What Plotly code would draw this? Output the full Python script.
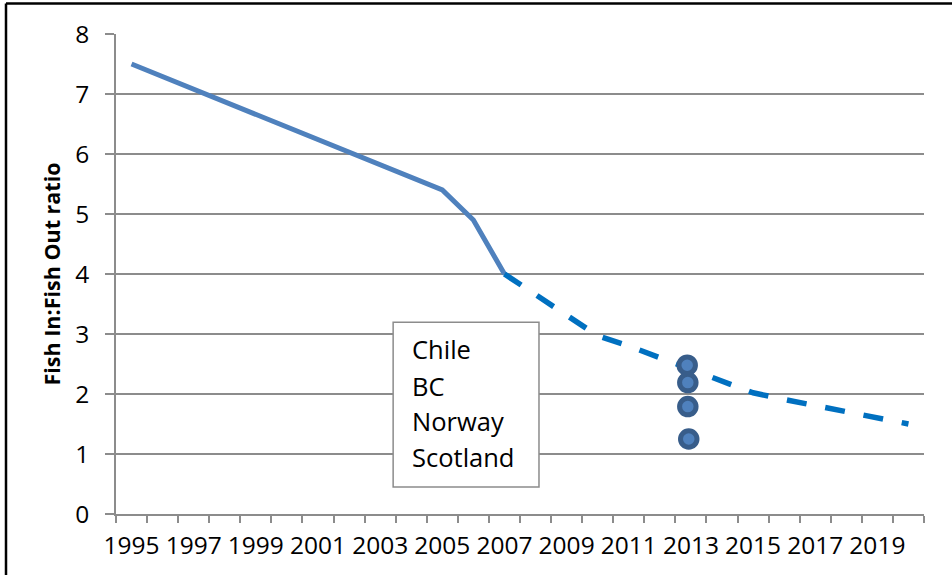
import plotly.graph_objects as go

# Data
solid_years = [1995, 2005, 2006, 2007]
solid_vals = [7.5, 5.4, 4.9, 4.0]

proj_years = [2007, 2008, 2009, 2010, 2011, 2012, 2013, 2014, 2015, 2016, 2017, 2018, 2019, 2020]
proj_vals = [4.0, 3.65, 3.3, 2.97, 2.8, 2.6, 2.4, 2.2, 2.02, 1.91, 1.81, 1.71, 1.6, 1.5]

countries = ["Chile", "BC", "Norway", "Scotland"]
country_x = [2012.88, 2012.9, 2012.9, 2012.93]
country_vals = [2.48, 2.19, 1.79, 1.25]

tick_years = list(range(1995, 2020, 2))
y_ticks = [0, 1, 2, 3, 4, 5, 6, 7, 8]

FONT = "Open Sans"
GRID = "#8c8c8c"

fig = go.Figure()
fig.add_trace(go.Scatter(x=solid_years, y=solid_vals, mode="lines",
                         line=dict(color="#4F81BD", width=5), showlegend=False,
                         hoverinfo="skip"))
fig.add_trace(go.Scatter(x=proj_years, y=proj_vals, mode="lines",
                         line=dict(color="#0070C0", width=5.5, dash="20px,19px"),
                         showlegend=False, hoverinfo="skip"))
fig.add_trace(go.Scatter(x=country_x, y=country_vals, mode="markers", text=countries,
                         marker=dict(size=16.5, color="#4F81BD",
                                     line=dict(color="#385D8A", width=5)),
                         showlegend=False))

# text box
box_x0, box_x1 = 0.343, 0.5235
box_y0, box_y1 = 0.0562, 0.3996
fig.add_shape(type="rect", xref="paper", yref="paper", x0=box_x0, x1=box_x1,
              y0=box_y0, y1=box_y1, line=dict(color="#8c8c8c", width=1.5),
              fillcolor="white", layer="above")
line_pix = [349, 385.5, 421, 457]
for name, py in zip(countries, line_pix):
    fig.add_annotation(text=name, xref="paper", yref="paper",
                       x=(410 - 116) / 808, y=(514 - py) / 480.5,
                       xanchor="left", yanchor="middle", showarrow=False,
                       font=dict(family=FONT, size=25.5, color="black"))

# outer chart border (left and top visible)
fig.add_shape(type="line", xref="paper", yref="paper",
              x0=(6 - 116) / 808, x1=(6 - 116) / 808, y0=(514 - 3) / 480.5, y1=(514 - 580) / 480.5,
              line=dict(color="black", width=2.5))
fig.add_shape(type="line", xref="paper", yref="paper",
              x0=(6 - 116) / 808, x1=(960 - 116) / 808, y0=(514 - 3) / 480.5, y1=(514 - 3) / 480.5,
              line=dict(color="black", width=2.5))

fig.update_layout(
    width=952, height=575,
    margin=dict(l=116, r=28, t=33.5, b=61),
    paper_bgcolor="white", plot_bgcolor="white",
    font=dict(family=FONT, color="black"),
    xaxis=dict(range=[1994.5, 2020.5], tickmode="array", tickvals=tick_years,
               ticktext=[str(y) for y in tick_years], showgrid=False,
               showline=True, linecolor=GRID, linewidth=1.5, ticks="",
               tickfont=dict(size=24.5, family=FONT), zeroline=False,
               minor=dict(ticks="outside", tick0=1994.5, dtick=1, ticklen=7,
                          tickcolor=GRID, tickwidth=1.5, showgrid=False),
               ticklabelstandoff=9),
    yaxis=dict(range=[0, 8], tickvals=y_ticks, showgrid=True, gridcolor=GRID,
               gridwidth=1.5, showline=True, linecolor=GRID, linewidth=1.5,
               ticks="outside", ticklen=9, tickcolor=GRID, tickwidth=1.5,
               tickfont=dict(size=24.5, family=FONT), zeroline=False,
               ticklabelstandoff=11,
               title=dict(text="<b>Fish In:Fish Out ratio</b>", standoff=9,
                          font=dict(size=21.5, family=FONT))),
)

fig.write_html("out.html")
